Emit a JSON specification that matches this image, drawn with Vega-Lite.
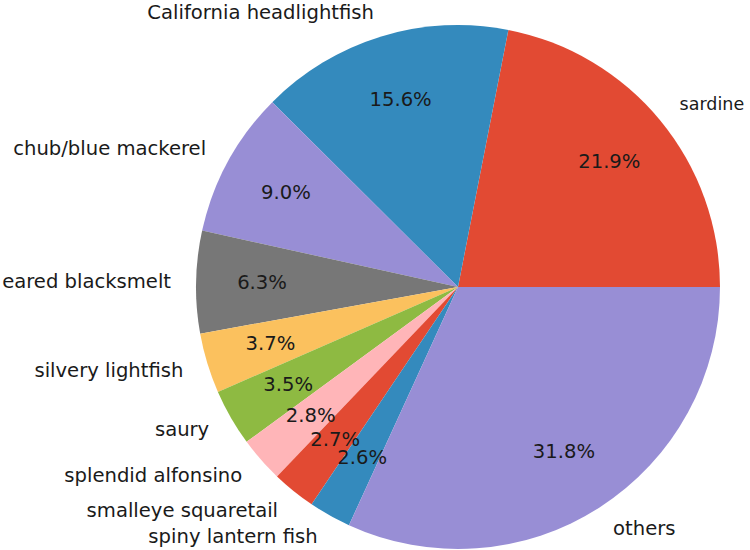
{
  "$schema": "https://vega.github.io/schema/vega-lite/v6.json",
  "width": 524,
  "height": 524,
  "autosize": {"type": "none"},
  "padding": {"left": 196, "top": 25, "right": 30, "bottom": 1},
  "background": "white",
  "config": {"view": {"stroke": null}, "text": {"font": "DejaVu Sans", "fontSize": 19.6}},
  "data": {
    "values": [
      {"i": 1, "name": "sardine", "share": 0.219},
      {"i": 2, "name": "California headlightfish", "share": 0.156},
      {"i": 3, "name": "chub/blue mackerel", "share": 0.090},
      {"i": 4, "name": "eared blacksmelt", "share": 0.063},
      {"i": 5, "name": "silvery lightfish", "share": 0.037},
      {"i": 6, "name": "saury", "share": 0.035},
      {"i": 7, "name": "splendid alfonsino", "share": 0.028},
      {"i": 8, "name": "smalleye squaretail", "share": 0.027},
      {"i": 9, "name": "spiny lantern fish", "share": 0.026},
      {"i": 10, "name": "others", "share": 0.318}
    ]
  },
  "encoding": {
    "theta": {"field": "share", "type": "quantitative", "stack": true, "scale": {"range": [1.5707963, -4.712389]}},
    "order": {"field": "i", "type": "quantitative"}
  },
  "layer": [
    {
      "mark": {"type": "arc", "outerRadius": 262},
      "encoding": {
        "color": {
          "field": "name",
          "type": "nominal",
          "legend": null,
          "scale": {
            "domain": ["sardine", "California headlightfish", "chub/blue mackerel", "eared blacksmelt", "silvery lightfish", "saury", "splendid alfonsino", "smalleye squaretail", "spiny lantern fish", "others"],
            "range": ["#E24A33", "#348ABD", "#988ED5", "#777777", "#FBC15E", "#8EBA42", "#FFB5B8", "#E24A33", "#348ABD", "#988ED5"]
          }
        }
      }
    },
    {
      "mark": {"type": "text", "radius": 196, "align": "center", "baseline": "middle", "color": "#1a1a1a"},
      "encoding": {"text": {"field": "share", "type": "quantitative", "format": ".1%"}}
    },
    {
      "mark": {"type": "text", "radius": 287, "align": "left", "baseline": "middle", "color": "#1a1a1a"},
      "encoding": {
        "text": {"condition": {"test": "datum.name == 'others'", "field": "name"}, "value": ""}
      }
    },
    {
      "mark": {"type": "text", "radius": 287, "align": "left", "baseline": "middle", "color": "#1a1a1a", "fontSize": 17.5},
      "encoding": {
        "text": {"condition": {"test": "datum.name == 'sardine'", "field": "name"}, "value": ""}
      }
    },
    {
      "mark": {"type": "text", "radius": 287, "align": "right", "baseline": "middle", "color": "#1a1a1a"},
      "encoding": {
        "text": {"condition": {"test": "indexof(['sardine','others'], datum.name) < 0", "field": "name"}, "value": ""}
      }
    }
  ]
}
